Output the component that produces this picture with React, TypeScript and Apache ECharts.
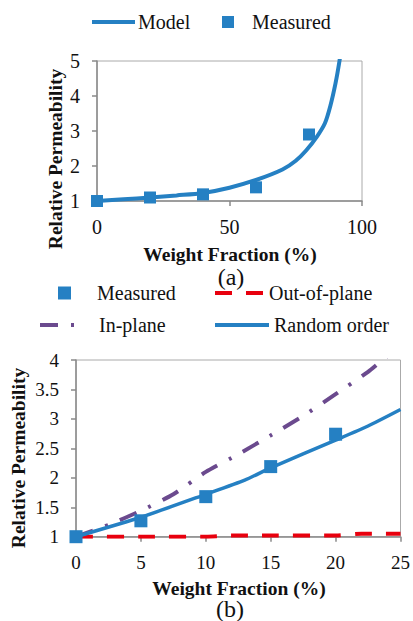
import React, { useEffect, useRef } from "react";
import * as echarts from "echarts";

// ---- Chart (a) data ----
const modelA: [number, number][] = [
  [0, 1.0], [10, 1.05], [20, 1.1], [30, 1.16], [40, 1.23], [50, 1.38], [60, 1.6],
  [70, 1.9], [75, 2.15], [79, 2.45], [83, 2.84], [86, 3.22], [88, 3.7], [90, 4.36], [91.5, 5.0], [92.2, 5.4],
];
const measuredA: [number, number][] = [
  [0, 1.0], [20, 1.1], [40, 1.19], [60, 1.39], [80, 2.9],
];

// ---- Chart (b) data ----
const measuredB: [number, number][] = [
  [0, 1.0], [5, 1.27], [10, 1.68], [15, 2.19], [20, 2.74],
];
const randomOrderB: [number, number][] = [
  [0, 1.0], [5, 1.33], [10, 1.72], [13, 1.96], [15, 2.17], [20, 2.64], [22.5, 2.88], [25, 3.16],
];
const inPlaneB: [number, number][] = [
  [0, 1.0], [2.5, 1.2], [5, 1.44], [7.5, 1.72], [10, 2.1], [12.5, 2.4], [15, 2.72],
  [17.5, 3.05], [20, 3.42], [22.5, 3.8], [23.6, 4.0], [25, 4.25],
];
const outOfPlaneB: [number, number][] = [
  [0, 1.0], [5, 1.0], [10, 1.0], [12, 1.02], [15, 1.02], [20, 1.02], [22, 1.05], [25, 1.05],
];

const BLUE = "#2580C3";
const PURPLE = "#6B4A8E";
const RED = "#E8000E";
const AXIS = "#8a8a8a";
const FONT = "Liberation Serif, serif";

export default function App() {
  const ref = useRef<HTMLDivElement>(null);

  useEffect(() => {
    document.body.style.margin = "0";
    if (!ref.current) return;
    const chart = echarts.init(ref.current, undefined, { renderer: "svg" });

    const axisCommon = {
      axisLine: { show: true, lineStyle: { color: AXIS, width: 1.5 } },
      axisTick: { show: true, inside: false, length: 5, lineStyle: { color: AXIS, width: 1.5 } },
      splitLine: { show: false },
    };

    const legendBase = {
      orient: "horizontal" as const,
      padding: 0,
      selectedMode: false,
      textStyle: { fontFamily: FONT, fontSize: 20, color: "#111" },
    };
    const lineLegend = { itemStyle: { opacity: 0 }, lineStyle: { width: 4 } };

    const option: any = {
      animation: false,
      backgroundColor: "#fff",
      grid: [
        { left: 97, top: 61, width: 265, height: 140, show: true, borderColor: "#aaa", borderWidth: 1 },
        { left: 76, top: 360, width: 327.3, height: 176.7, show: true, borderColor: "#aaa", borderWidth: 1 },
      ],
      xAxis: [
        {
          gridIndex: 0, type: "value", min: 0, max: 100, interval: 50, ...axisCommon,
          axisLabel: { margin: 16, fontFamily: FONT, fontSize: 20, color: "#111" },
        },
        {
          gridIndex: 1, type: "value", min: 0, max: 25, interval: 5, ...axisCommon,
          axisLabel: { margin: 16, fontFamily: FONT, fontSize: 19, color: "#111" },
        },
      ],
      yAxis: [
        {
          gridIndex: 0, type: "value", min: 1, max: 5, interval: 1, ...axisCommon,
          axisLabel: { margin: 17, fontFamily: FONT, fontSize: 20, color: "#111" },
        },
        {
          gridIndex: 1, type: "value", min: 1, max: 4, interval: 0.5, ...axisCommon,
          axisLabel: { margin: 17, fontFamily: FONT, fontSize: 19, color: "#111" },
        },
      ],
      legend: [
        {
          ...legendBase, ...lineLegend, left: 90, top: 12, itemWidth: 43, itemHeight: 14,
          data: [{ name: "Model" }],
          textStyle: { ...legendBase.textStyle, padding: [0, 0, 0, -2] },
        },
        {
          ...legendBase, left: 222, top: 12, itemWidth: 12, itemHeight: 12,
          data: [{ name: "Measured", icon: "rect" }],
          textStyle: { ...legendBase.textStyle, padding: [0, 0, 0, 13] },
        },
        {
          ...legendBase, left: 58, top: 283, itemWidth: 13, itemHeight: 13,
          data: [{ name: "Measured", icon: "rect" }],
          textStyle: { ...legendBase.textStyle, padding: [0, 0, 0, 21] },
        },
        {
          ...legendBase, ...lineLegend, left: 213, top: 283, itemWidth: 49, itemHeight: 14,
          data: [{ name: "Out-of-plane" }],
        },
        {
          ...legendBase, ...lineLegend, left: 38, top: 315, itemWidth: 36, itemHeight: 14,
          data: [{ name: "In-plane" }],
          textStyle: { ...legendBase.textStyle, padding: [0, 0, 0, 18] },
        },
        {
          ...legendBase, ...lineLegend, left: 213, top: 315, itemWidth: 54, itemHeight: 14,
          data: [{ name: "Random order" }],
        },
      ],
      series: [
        {
          name: "Model", type: "line", xAxisIndex: 0, yAxisIndex: 0, data: modelA,
          symbol: "none", smooth: 0.3, clip: true,
          lineStyle: { color: BLUE, width: 4 }, itemStyle: { color: BLUE },
        },
        {
          name: "Measured", type: "scatter", xAxisIndex: 0, yAxisIndex: 0, data: measuredA,
          symbol: "rect", symbolSize: 12, itemStyle: { color: BLUE, opacity: 1 }, z: 5,
        },
        {
          name: "Out-of-plane", type: "line", xAxisIndex: 1, yAxisIndex: 1, data: outOfPlaneB,
          symbol: "none", smooth: 0.3, clip: true,
          lineStyle: { color: RED, width: 4, type: [17, 14] }, itemStyle: { color: RED },
        },
        {
          name: "In-plane", type: "line", xAxisIndex: 1, yAxisIndex: 1, data: inPlaneB,
          symbol: "none", smooth: 0.2, clip: true,
          lineStyle: { color: PURPLE, width: 4, type: [18, 13, 3, 13] }, itemStyle: { color: PURPLE },
        },
        {
          name: "Random order", type: "line", xAxisIndex: 1, yAxisIndex: 1, data: randomOrderB,
          symbol: "none", smooth: 0.2, clip: true,
          lineStyle: { color: BLUE, width: 3.5 }, itemStyle: { color: BLUE },
        },
        {
          name: "Measured", type: "scatter", xAxisIndex: 1, yAxisIndex: 1, data: measuredB,
          symbol: "rect", symbolSize: 13, itemStyle: { color: BLUE, opacity: 1 }, z: 5,
        },
      ],
      graphic: [
        {
          type: "text", x: 230, y: 254,
          style: { text: "Weight Fraction (%)", fontFamily: FONT, fontSize: 19.5, fontWeight: "bold", fill: "#111", align: "center", verticalAlign: "middle" },
        },
        {
          type: "text", x: 55, y: 159, rotation: Math.PI / 2,
          style: { text: "Relative Permeability", fontFamily: FONT, fontSize: 19.5, fontWeight: "bold", fill: "#111", align: "center", verticalAlign: "middle" },
        },
        {
          type: "text", x: 231, y: 277,
          style: { text: "(a)", fontFamily: FONT, fontSize: 24, fill: "#111", align: "center", verticalAlign: "middle" },
        },
        {
          type: "text", x: 239, y: 588,
          style: { text: "Weight Fraction (%)", fontFamily: FONT, fontSize: 19.5, fontWeight: "bold", fill: "#111", align: "center", verticalAlign: "middle" },
        },
        {
          type: "text", x: 18, y: 458, rotation: Math.PI / 2,
          style: { text: "Relative Permeability", fontFamily: FONT, fontSize: 19.5, fontWeight: "bold", fill: "#111", align: "center", verticalAlign: "middle" },
        },
        {
          type: "text", x: 230, y: 609,
          style: { text: "(b)", fontFamily: FONT, fontSize: 24, fill: "#111", align: "center", verticalAlign: "middle" },
        },
      ],
    };

    chart.setOption(option);
    return () => chart.dispose();
  }, []);

  return <div ref={ref} style={{ width: 413, height: 621 }} />;
}
